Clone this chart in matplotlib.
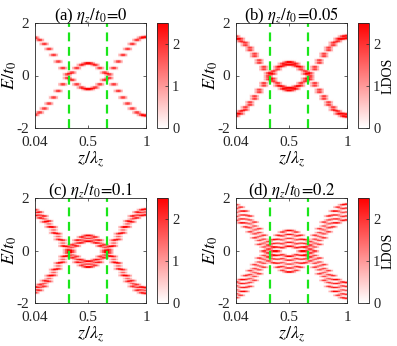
import numpy as np
import matplotlib
matplotlib.use("Agg")
import matplotlib.pyplot as plt
from matplotlib.colors import LinearSegmentedColormap

plt.rcParams['font.family'] = ['Liberation Serif', 'DejaVu Serif']
plt.rcParams['mathtext.fontset'] = 'stix'

# lattice sites along z (z / lambda_z)
z_sites = [0.04, 0.08, 0.12, 0.16, 0.20, 0.24, 0.28, 0.32, 0.36, 0.40,
           0.44, 0.48, 0.52, 0.56, 0.60, 0.64, 0.68, 0.72, 0.76, 0.80,
           0.84, 0.88, 0.92, 0.96, 1.00]
# energy level of the upper-left branch at each site (E/t0)
branch_E = [1.47, 1.38, 1.23, 1.04, 0.81, 0.56, 0.31, 0.07, -0.14, -0.31,
            -0.43, -0.49, -0.49, -0.43, -0.31, -0.14, 0.07, 0.31, 0.56, 0.81,
            1.04, 1.23, 1.38, 1.47, 1.50]

# level splitting for each eta_z/t0 (offsets and relative weights)
titles = [r'(a) $\eta_z/t_0\!=\!0$', r'(b) $\eta_z/t_0\!=\!0.05$',
          r'(c) $\eta_z/t_0\!=\!0.1$', r'(d) $\eta_z/t_0\!=\!0.2$']
split_offsets = [[0.0],
                 [-0.05, 0.05],
                 [-0.11, 0.0, 0.11],
                 [-0.3, -0.15, 0.0, 0.15, 0.3]]
split_weights = [[1.0],
                 [0.8, 0.8],
                 [0.85, 0.5, 0.85],
                 [0.75, 0.6, 0.5, 0.6, 0.75]]
show_ldos = [False, True, False, True]
green_lines = [1/3, 2/3]

peak_height = 4.0
peak_sigma = [0.032, 0.03, 0.026, 0.024]

E_grid = np.linspace(-2, 2, 801)
z = np.array(z_sites)
levels = np.array(branch_E)

cmap = LinearSegmentedColormap.from_list('wr', ['white', 'red'])

W, H = 397, 346
fig = plt.figure(figsize=(W / 100, H / 100), dpi=100)

# axes boxes in pixels: (left, top) ; width/height common
ax_pos = [(35, 23), (236, 23), (35, 198), (236, 198)]
cb_pos = [(157, 23), (358, 23), (157, 198), (358, 198)]
aw, ah = 111, 105
cw = 11

for i in range(4):
    lx, ty = ax_pos[i]
    ax = fig.add_axes([lx / W, 1 - (ty + ah) / H, aw / W, ah / H])
    C = np.zeros((len(E_grid), len(z)))
    s = peak_sigma[i]
    for off, w in zip(split_offsets[i], split_weights[i]):
        for sgn in (1, -1):
            e0 = sgn * levels + off
            C += w * peak_height * np.exp(-(E_grid[:, None] - e0[None, :]) ** 2 / (2 * s ** 2))
    m = ax.pcolormesh(z, E_grid, C, shading='gouraud', cmap=cmap, vmin=0, vmax=2.5,
                      rasterized=True)
    for zl in green_lines:
        ax.axvline(zl, color=(0.1, 0.9, 0.1), lw=1.6, ls=(0, (4, 2.5)))
    ax.set_xlim(0.04, 1)
    ax.set_ylim(-2, 2)
    ax.set_xticks([0.04, 0.5, 1])
    ax.set_xticklabels(['0.04', '0.5', '1'])
    ax.set_yticks([-2, 0, 2])
    ax.set_yticklabels(['-2', '0', '2'])
    ax.tick_params(direction='in', length=2, width=0.5, labelsize=11,
                   top=True, right=True, colors='0.15')
    ax.tick_params(axis='x', pad=6)
    ax.tick_params(axis='y', pad=4)
    for sp in ax.spines.values():
        sp.set_linewidth(0.6)
        sp.set_color('0.15')
    ax.set_xlabel(r'$z/\lambda_z$', fontsize=13, labelpad=0)
    ax.set_ylabel(r'$E/t_0$', fontsize=13, labelpad=-2)
    ax.set_title(titles[i], fontsize=12, pad=2)

    cx, cy = cb_pos[i]
    cax = fig.add_axes([cx / W, 1 - (cy + ah) / H, cw / W, ah / H])
    cb = fig.colorbar(m, cax=cax, ticks=[0, 1, 2])
    cb.ax.tick_params(direction='in', length=2, width=0.5, labelsize=10.5,
                      colors='0.15', pad=3)
    cb.outline.set_linewidth(0.6)
    cb.outline.set_edgecolor('0.15')
    if show_ldos[i]:
        cb.set_label('LDOS', fontsize=10, labelpad=1)

fig.savefig('out.png', dpi=100)
